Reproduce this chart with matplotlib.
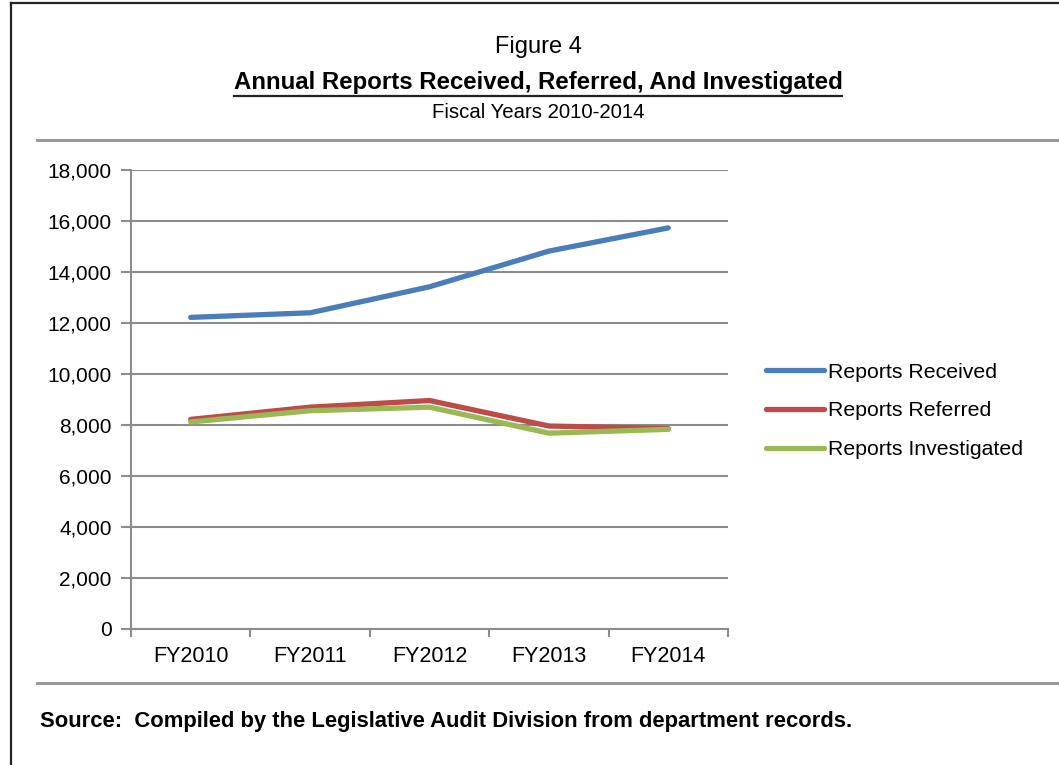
import matplotlib
matplotlib.use("Agg")
import matplotlib.pyplot as plt
from matplotlib import font_manager
from matplotlib.lines import Line2D
from matplotlib.ticker import FuncFormatter, FixedLocator

categories = ["FY2010", "FY2011", "FY2012", "FY2013", "FY2014"]
received = [12220, 12400, 13420, 14820, 15730]
referred = [8220, 8700, 8960, 7960, 7860]
investigated = [8120, 8560, 8700, 7680, 7830]
series_names = ["Reports Received", "Reports Referred", "Reports Investigated"]
colors = ["#4A7EBB", "#BE4B48", "#98B954"]

available = {f.name for f in font_manager.fontManager.ttflist}
narrow = "Liberation Sans Narrow" if "Liberation Sans Narrow" in available else "Liberation Sans"
regular = "Liberation Sans"

W, H = 1059, 765
fig = plt.figure(figsize=(W / 100, H / 100), dpi=100)

def fx(px):
    return px / W

def fy(py):
    return 1 - py / H

ax = fig.add_axes([fx(131), fy(629), fx(728) - fx(131), fy(170) - fy(629)])
x = list(range(len(categories)))
for vals, name, c in zip([received, referred, investigated], series_names, colors):
    ax.plot(x, vals, color=c, lw=3.8, label=name, solid_capstyle="round", solid_joinstyle="round")

grid_c = "#8C8C8C"
ax.set_ylim(0, 18000)
ax.set_xlim(-0.5, len(categories) - 0.5)
ax.set_yticks(range(0, 18001, 2000))
ax.yaxis.set_major_formatter(FuncFormatter(lambda v, p: f"{int(v):,}"))
ax.grid(axis="y", color=grid_c, lw=1.5)
ax.set_axisbelow(True)
for s in ["top", "right"]:
    ax.spines[s].set_visible(False)
ax.spines["left"].set_color(grid_c)
ax.spines["left"].set_linewidth(1.5)
ax.spines["bottom"].set_color(grid_c)
ax.spines["bottom"].set_linewidth(1.5)
ax.set_xticks(x)
ax.set_xticklabels(categories)
ax.xaxis.set_minor_locator(FixedLocator([i - 0.5 for i in range(len(categories) + 1)]))
ax.tick_params(axis="x", which="major", length=0, pad=12, labelsize=15.5)
ax.tick_params(axis="x", which="minor", length=6, width=1.5, color=grid_c, direction="out")
ax.tick_params(axis="y", length=7, width=1.5, color=grid_c, labelsize=15, pad=7)
for lab in ax.get_xticklabels() + ax.get_yticklabels():
    lab.set_fontfamily(regular)

leg = fig.legend(loc="center left", bbox_to_anchor=(fx(766), fy(411)), frameon=False,
                 prop={"family": regular, "size": 15.3}, handlelength=2.75, handletextpad=0.15,
                 labelspacing=0.93, borderpad=0, borderaxespad=0)

# frame and separators
fig.add_artist(Line2D([fx(11), fx(11)], [fy(3), 0], color="#222222", lw=1.6, transform=fig.transFigure))
fig.add_artist(Line2D([fx(11), 1], [fy(3), fy(3)], color="#222222", lw=1.6, transform=fig.transFigure))
fig.add_artist(Line2D([fx(37), 1], [fy(140), fy(140)], color="#999999", lw=2.2, transform=fig.transFigure))
fig.add_artist(Line2D([fx(37), 1], [fy(683), fy(683)], color="#999999", lw=2.2, transform=fig.transFigure))

fig.text(fx(538), fy(47), "Figure 4", ha="center", va="center", fontsize=17, family=narrow)
title = fig.text(fx(538), fy(83), "Annual Reports Received, Referred, And Investigated", ha="center",
                 va="center", fontsize=17.3, family=narrow, fontweight="bold")
fig.text(fx(538), fy(112), "Fiscal Years 2010-2014", ha="center", va="center", fontsize=14.7, family=narrow)
fig.text(fx(40), fy(722), "Source:  Compiled by the Legislative Audit Division from department records.",
         ha="left", va="center", fontsize=15.8, family=narrow, fontweight="bold")

fig.canvas.draw()
bb = title.get_window_extent(fig.canvas.get_renderer())
uy = (bb.y0 - 1) / (H)
fig.add_artist(Line2D([bb.x0 / W, bb.x1 / W], [uy, uy], color="#222222", lw=1.6, transform=fig.transFigure))

fig.savefig("out.png", dpi=100)
